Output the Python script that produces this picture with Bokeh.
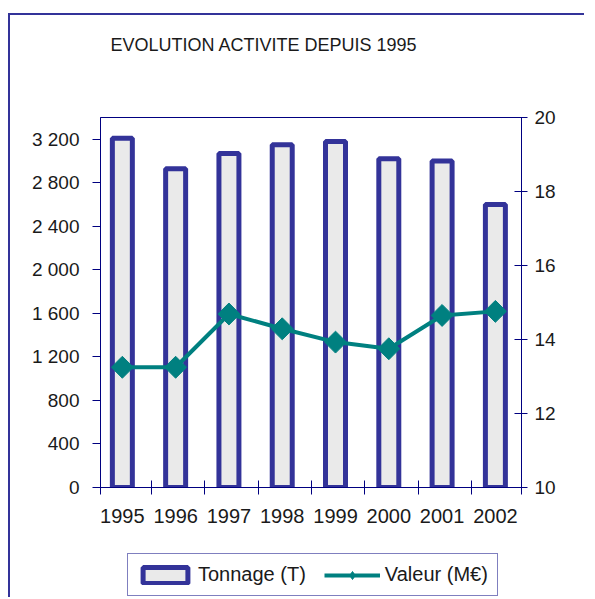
from math import pi
from bokeh.plotting import figure
from bokeh.layouts import column
from bokeh.models import Range1d, LinearAxis, FixedTicker, Legend, LegendItem, Title, ColumnDataSource
from bokeh.embed import file_html
from bokeh.resources import INLINE

years = ["1995", "1996", "1997", "1998", "1999", "2000", "2001", "2002"]
tonnage = [3210, 2930, 3070, 3150, 3180, 3020, 3000, 2600]
valeur = [13.25, 13.25, 14.69, 14.29, 13.93, 13.75, 14.65, 14.76]
left_ticks = [0, 400, 800, 1200, 1600, 2000, 2400, 2800, 3200]
right_ticks = [10, 12, 14, 16, 18, 20]

NAVY = "#000080"
BAR_LINE = "#333399"
TEAL = "#008080"
FONT = "Liberation Sans"
TXT = "#1a1a1a"

xs = list(range(len(years)))
src = ColumnDataSource(dict(x=xs, year=years, tonnage=tonnage, valeur=valeur))

W = 576
p = figure(width=W, height=540, x_range=Range1d(-0.41, 7.49), y_range=Range1d(0, 3400),
           output_backend="svg", toolbar_location=None,
           min_border_left=90, min_border_right=65, min_border_top=102, min_border_bottom=68)
p.styles = {"border-left": "2px solid #333399", "border-top": "2px solid #333399",
            "margin-left": "8px", "margin-top": "13px"}
p.extra_y_ranges = {"val": Range1d(10, 20)}
p.grid.visible = False
p.outline_line_color = NAVY
p.outline_line_width = 1
p.background_fill_color = "white"
p.border_fill_color = "white"


def add_series(fig, marker="square", angle=pi / 4, **kw):
    b = fig.vbar(x="x", top="tonnage", width=0.375, bottom=0, source=src,
                 fill_color="#EAEAEA", line_color=BAR_LINE, line_width=5)
    ln = fig.line(x="x", y="valeur", source=src, line_color=TEAL, line_width=4, **kw)
    mk = fig.scatter(x="x", y="valeur", source=src, marker=marker, angle=angle, size=15.5,
                     fill_color=TEAL, line_color=TEAL, **kw)
    return b, ln, mk


bars, line, marks = add_series(p, y_range_name="val")

# x axis
xa = p.xaxis[0]
xa.ticker = FixedTicker(ticks=xs, minor_ticks=[-0.41] + [i + 0.55 for i in range(len(years) - 1)] + [7.49])
xa.major_label_overrides = {i: y for i, y in zip(xs, years)}
xa.major_tick_in = 0
xa.major_tick_out = 7
xa.major_tick_line_color = None
xa.minor_tick_in = 7
xa.minor_tick_out = 7
xa.minor_tick_line_color = NAVY
xa.axis_line_color = NAVY
xa.major_label_standoff = 14
xa.major_label_text_font = FONT
xa.major_label_text_font_size = "20px"
xa.major_label_text_color = TXT

# left axis
ya = p.yaxis[0]
ya.ticker = FixedTicker(ticks=left_ticks)
ya.major_label_overrides = {v: f"{v:,}".replace(",", " ") for v in left_ticks}
ya.major_tick_in = 0
ya.major_tick_out = 8
ya.minor_tick_line_color = None
ya.major_tick_line_color = NAVY
ya.axis_line_color = NAVY
ya.major_label_standoff = 13
ya.major_label_text_font = FONT
ya.major_label_text_font_size = "19px"
ya.major_label_text_color = TXT

# right axis
ra = LinearAxis(y_range_name="val", ticker=FixedTicker(ticks=right_ticks))
ra.major_tick_in = 7
ra.major_tick_out = 6
ra.minor_tick_line_color = None
ra.major_tick_line_color = NAVY
ra.axis_line_color = NAVY
ra.major_label_standoff = 7
ra.major_label_text_font = FONT
ra.major_label_text_font_size = "19px"
ra.major_label_text_color = TXT
p.add_layout(ra, "right")

spacer = Title(text=" ", text_font_size="1px", standoff=60)
p.add_layout(spacer, "above")
title = Title(text="EVOLUTION ACTIVITE DEPUIS 1995", align="left", offset=10, standoff=0,
              text_font=FONT, text_font_size="18px", text_font_style="normal", text_color=TXT)
p.add_layout(title, "above")

# legend strip: the same series, squeezed into the area hidden behind the opaque legend box
lf = figure(width=W, height=44, x_range=Range1d(-3, 10), y_range=Range1d(-1e6, 1e6),
            output_backend="svg", toolbar_location=None,
            x_axis_location=None, y_axis_location=None,
            min_border_left=0, min_border_right=0, min_border_top=0, min_border_bottom=0)
lf.styles = {"border-left": "2px solid #333399", "margin-left": "8px"}
lf.grid.visible = False
lf.outline_line_color = None
lf.border_fill_color = "white"
lf.background_fill_color = "white"
lbars, lline, lmarks = add_series(lf, marker="diamond", angle=0)

legend = Legend(items=[LegendItem(label="Tonnage (T)", renderers=[lbars]),
                       LegendItem(label="Valeur (M€)", renderers=[lline, lmarks])],
                location=(27, 1), orientation="horizontal",
                padding=9, spacing=18, label_standoff=5, glyph_width=56, glyph_height=20,
                label_height=18, margin=0,
                label_text_font=FONT, label_text_font_size="20px", label_text_color=TXT,
                border_line_color=NAVY, border_line_width=1, background_fill_color="white",
                background_fill_alpha=1)
lf.add_layout(legend, "center")

layout = column(p, lf, spacing=0)
open("out.html", "w").write(file_html(layout, INLINE))
